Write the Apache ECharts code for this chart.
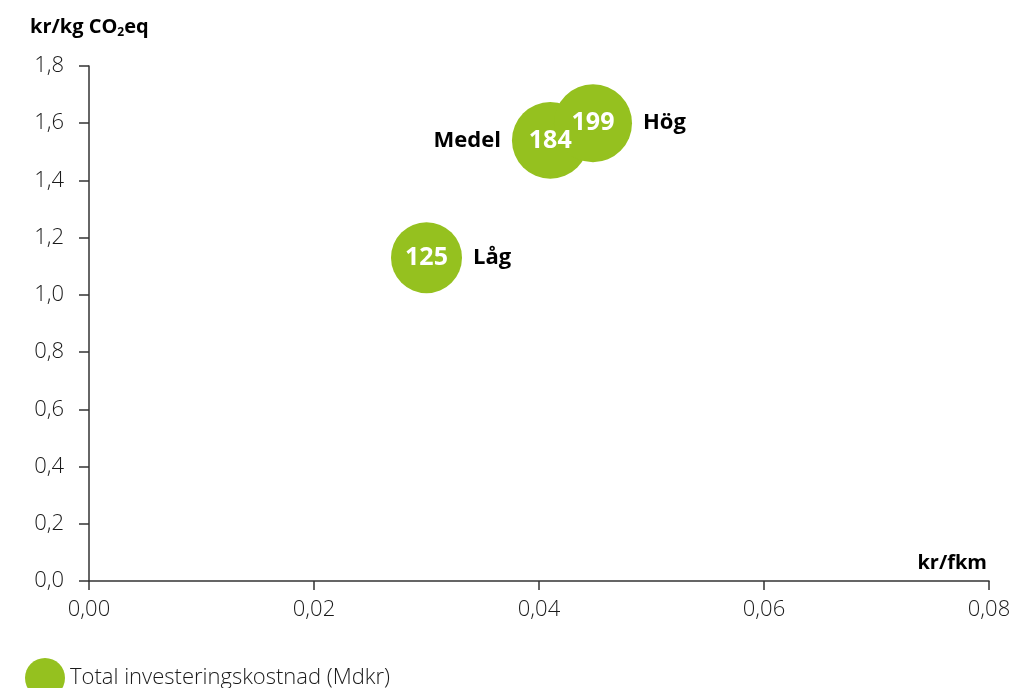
<!DOCTYPE html>
<html><head><meta charset="utf-8">
<script src="https://cdn.jsdelivr.net/npm/echarts@6/dist/echarts.min.js"></script>
<style>html,body{margin:0;padding:0;background:#fff}#c{width:1017px;height:688px}</style>
</head><body><div id="c"></div>
<script>
const names = ['Låg', 'Medel', 'Hög'];
const costPerFkm = [0.030, 0.041, 0.0448];
const costPerKg = [1.13, 1.54, 1.60];
const investment = [125, 184, 199];
const xTicks = ['0,00','0,02','0,04','0,06','0,08'];
const yTicks = ['0,0','0,2','0,4','0,6','0,8','1,0','1,2','1,4','1,6','1,8'];

const green = '#95C11F';
const font = 'Open Sans';
const chart = echarts.init(document.getElementById('c'), null, {renderer:'canvas'});
const labelPos = {'Låg':'right','Medel':'left','Hög':'right'};
const sizeOf = (v)=>71 + (v[2]-125)*0.095;
chart.setOption({
  animation:false,
  textStyle:{fontFamily:font},
  grid:{left:89, right:28, top:66, bottom:107, containLabel:false},
  legend:{
    left:20, top:653, itemWidth:40, itemHeight:40, icon:'circle', itemGap:10,
    textStyle:{fontFamily:font, fontWeight:300, fontSize:22, color:'#1a1a1a', padding:[6,0,0,0]},
    data:['Total investeringskostnad (Mdkr)']
  },
  graphic:[{
    type:'text', left:30, top:16,
    style:{
      text:'{b|kr/kg CO}{s|2}{b|eq}',
      rich:{
        b:{fontFamily:font, fontWeight:'bold', fontSize:20, fill:'#000', lineHeight:26},
        s:{fontFamily:font, fontWeight:'bold', fontSize:12, fill:'#000', padding:[11,0,0,0], lineHeight:26}
      }
    }
  }],
  xAxis:{
    type:'value', min:0, max:0.08, interval:0.02,
    name:'kr/fkm', nameLocation:'end', nameGap:0,
    nameTextStyle:{fontFamily:font, fontWeight:'bold', fontSize:20, color:'#000', align:'right', verticalAlign:'bottom', padding:[0,2,8,0]},
    axisLine:{show:true, lineStyle:{color:'#333', width:1.5}},
    axisTick:{show:true, length:9, lineStyle:{color:'#333', width:1.5}},
    axisLabel:{fontFamily:font, fontWeight:300, fontSize:22, color:'#1a1a1a', margin:18,
      formatter:(v)=>xTicks[Math.round(v/0.02)]},
    splitLine:{show:false}
  },
  yAxis:{
    type:'value', min:0, max:1.8, interval:0.2,
    axisLine:{show:true, lineStyle:{color:'#333', width:1.5}},
    axisTick:{show:true, length:10, lineStyle:{color:'#333', width:1.5}},
    axisLabel:{fontFamily:font, fontWeight:300, fontSize:22, color:'#1a1a1a', margin:25,
      formatter:(v)=>yTicks[Math.round(v/0.2)]},
    splitLine:{show:false}
  },
  series:[{
    name:'Total investeringskostnad (Mdkr)',
    type:'scatter',
    data:names.map((n,i)=>({name:n, value:[costPerFkm[i], costPerKg[i], investment[i]]})),
    symbolSize:sizeOf,
    itemStyle:{color:green, opacity:1},
    label:{
      show:true,
      position:'inside',
      formatter:(p)=>String(p.value[2]),
      fontFamily:font, fontWeight:'bold', fontSize:25, color:'#fff',
      textBorderWidth:0
    },
    z:2
  },{
    type:'scatter',
    silent:true,
    data:names.map((n,i)=>({name:n, value:[costPerFkm[i], costPerKg[i], investment[i]],
      label:{position:labelPos[n]}})),
    symbolSize:sizeOf,
    itemStyle:{color:'rgba(0,0,0,0)'},
    label:{
      show:true,
      formatter:(p)=>p.name,
      distance:11,
      opacity:1,
      fontFamily:font, fontWeight:'bold', fontSize:22, color:'#000',
      textBorderWidth:0
    },
    emphasis:{disabled:true},
    z:1
  }]
});
</script></body></html>
